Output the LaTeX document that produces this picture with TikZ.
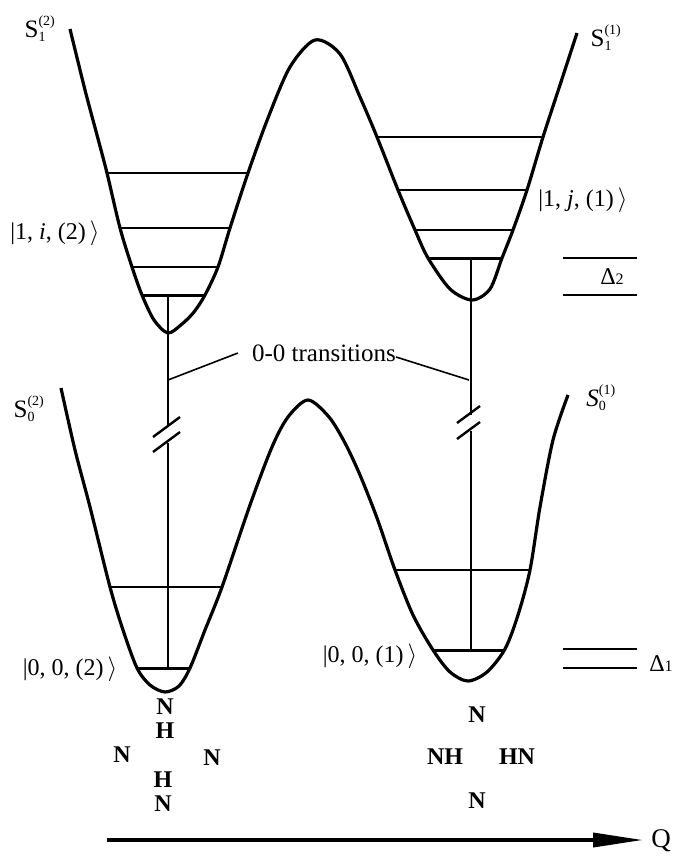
\documentclass[tikz,border=0pt]{standalone}
\usepackage{fontspec}
\setmainfont{Liberation Serif}
\usepackage{amsmath}
\usetikzlibrary{arrows.meta}

% S with stacked upper and lower index
\newcommand{\slab}[3]{#1$^{\text{\fontsize{14}{14}\selectfont #2}}_{\text{\fontsize{14}{14}\selectfont #3}}$}

\begin{document}
\begin{tikzpicture}[x=1pt, y=-1pt,
    pot/.style={line width=3.2pt, line join=round},
    lev/.style={line width=1.6pt},
    gnd/.style={line width=3pt},
    trn/.style={line width=2.4pt},
    lbl/.style={font=\fontsize{24}{26}\selectfont, inner sep=0pt},
    slbl/.style={font=\fontsize{25}{26}\selectfont, inner sep=0pt},
    mol/.style={font=\fontsize{24}{24}\selectfont\bfseries, inner sep=0pt}]
    \useasboundingbox (0,0) rectangle (676,857);
    % S1 surface
    \draw[pot] plot[smooth, tension=0.5] coordinates {(70,29) (85,90) (97,135)
        (107,173) (120,228) (132,267) (142,295) (154,320) (168,333) (182,324)
        (194,312) (205,295) (218,267) (230,228) (248,173) (268,118) (290,67)
        (315,40) (340,54) (360,97) (377,137) (398,190) (415,230) (428,258)
        (450,289) (472,300) (490,289) (502,258) (513,230) (527,190) (543,137)
        (560,85) (577,33)};
    % S0 surface
    \draw[pot] plot[smooth, tension=0.5] coordinates {(61,388) (75,450) (90,507)
        (110,587) (123,630) (137,668) (150,685) (165,692) (179,686) (190,668)
        (205,630) (222,587) (250,505) (272,447) (288,417) (308,400) (329,417)
        (345,443) (360,475) (377,518) (395,570) (413,615) (433,650) (450,672)
        (468,681) (487,672) (505,649) (518,615) (530,570) (540,507) (553,440)
        (568,395)};
    % vibrational levels
    \foreach \y/\a/\b in {173/107/248, 228/120/230, 267/132/218,
        137/377/543, 190/398/527, 230/415/513, 587/110/222, 570/395/530}
        \draw[lev] (\a,\y) -- (\b,\y);
    \foreach \y/\a/\b in {295/142/205, 258/428/502, 668/137/190, 650/433/505}
        \draw[gnd] (\a,\y) -- (\b,\y);
    % energy gaps
    \foreach \y in {258, 295, 649, 668}
        \draw[lev] (563,\y) -- (637,\y);
    \node[lbl] (d2) at (612,277) {Δ{\fontsize{16}{16}\selectfont 2}};
    \node[lbl] (d1) at (661,664) {Δ{\fontsize{16}{16}\selectfont 1}};
    % 0-0 transitions, broken
    \coordinate (e2) at (168,295);
    \coordinate (g2) at (168,668);
    \coordinate (e1) at (471,258);
    \coordinate (g1) at (471,650);
    \coordinate (b2u) at (168,427);
    \coordinate (b2l) at (168,443);
    \coordinate (b1u) at (471,415);
    \coordinate (b1l) at (471,431);
    \draw[trn] (e2) -- (b2u) (b2l) -- (g2);
    \draw[trn] (e1) -- (b1u) (b1l) -- (g1);
    \draw[trn] (153,437) -- (180,417) (153,452) -- (180,432);
    \draw[trn] (457,423) -- (480,406) (457,439) -- (480,422);
    \node[lbl, font=\fontsize{25}{26}\selectfont] (trans) at (324,353) {0-0 transitions};
    \coordinate (t2) at (168,380);
    \coordinate (t1) at (469,380);
    \draw[lev] ([xshift=-14pt]trans.west) -- (t2);
    \draw[lev] ([yshift=-4pt]trans.east) -- (t1);
    % surface labels
    \node[slbl] (s12) at (40,29) {\slab{S}{(2)}{1}};
    \node[slbl] (s11) at (606,38) {\slab{S}{(1)}{1}};
    \node[slbl] (s02) at (29,409) {\slab{S}{(2)}{0}};
    \node[slbl] (s01) at (601,398) {\slab{\textit{S}}{(1)}{0}};
    % state labels
    \node[lbl] (k12) at (55,233) {\textbar 1, \textit{i}, (2)\,$\rangle$};
    \node[lbl] (k11) at (583,200) {\textbar 1, \textit{j}, (1)\,$\rangle$};
    \node[lbl] (k02) at (70,669) {\textbar 0, 0, (2)\,$\rangle$};
    \node[lbl] (k01) at (370,656) {\textbar 0, 0, (1)\,$\rangle$};
    % tautomers
    \node[mol] (n2a) at (165,707) {N};
    \node[mol] (h2a) at (165,731) {H};
    \node[mol] (n2b) at (122,755) {N};
    \node[mol] (n2c) at (212,758) {N};
    \node[mol] (h2b) at (163,780) {H};
    \node[mol] (n2d) at (163,804) {N};
    \node[mol] (n1a) at (477,715) {N};
    \node[mol] (n1b) at (445,757) {NH};
    \node[mol] (n1c) at (517,757) {HN};
    \node[mol] (n1d) at (477,801) {N};
    % reaction coordinate
    \node[lbl, font=\fontsize{27}{28}\selectfont] (q) at (661,841) {Q};
    \coordinate (qs) at (107,840);
    \coordinate (qe) at (643,840);
    \draw[line width=3.6pt, -{Triangle[length=50pt, width=14pt]}] (qs) -- (qe);
\end{tikzpicture}
\end{document}
